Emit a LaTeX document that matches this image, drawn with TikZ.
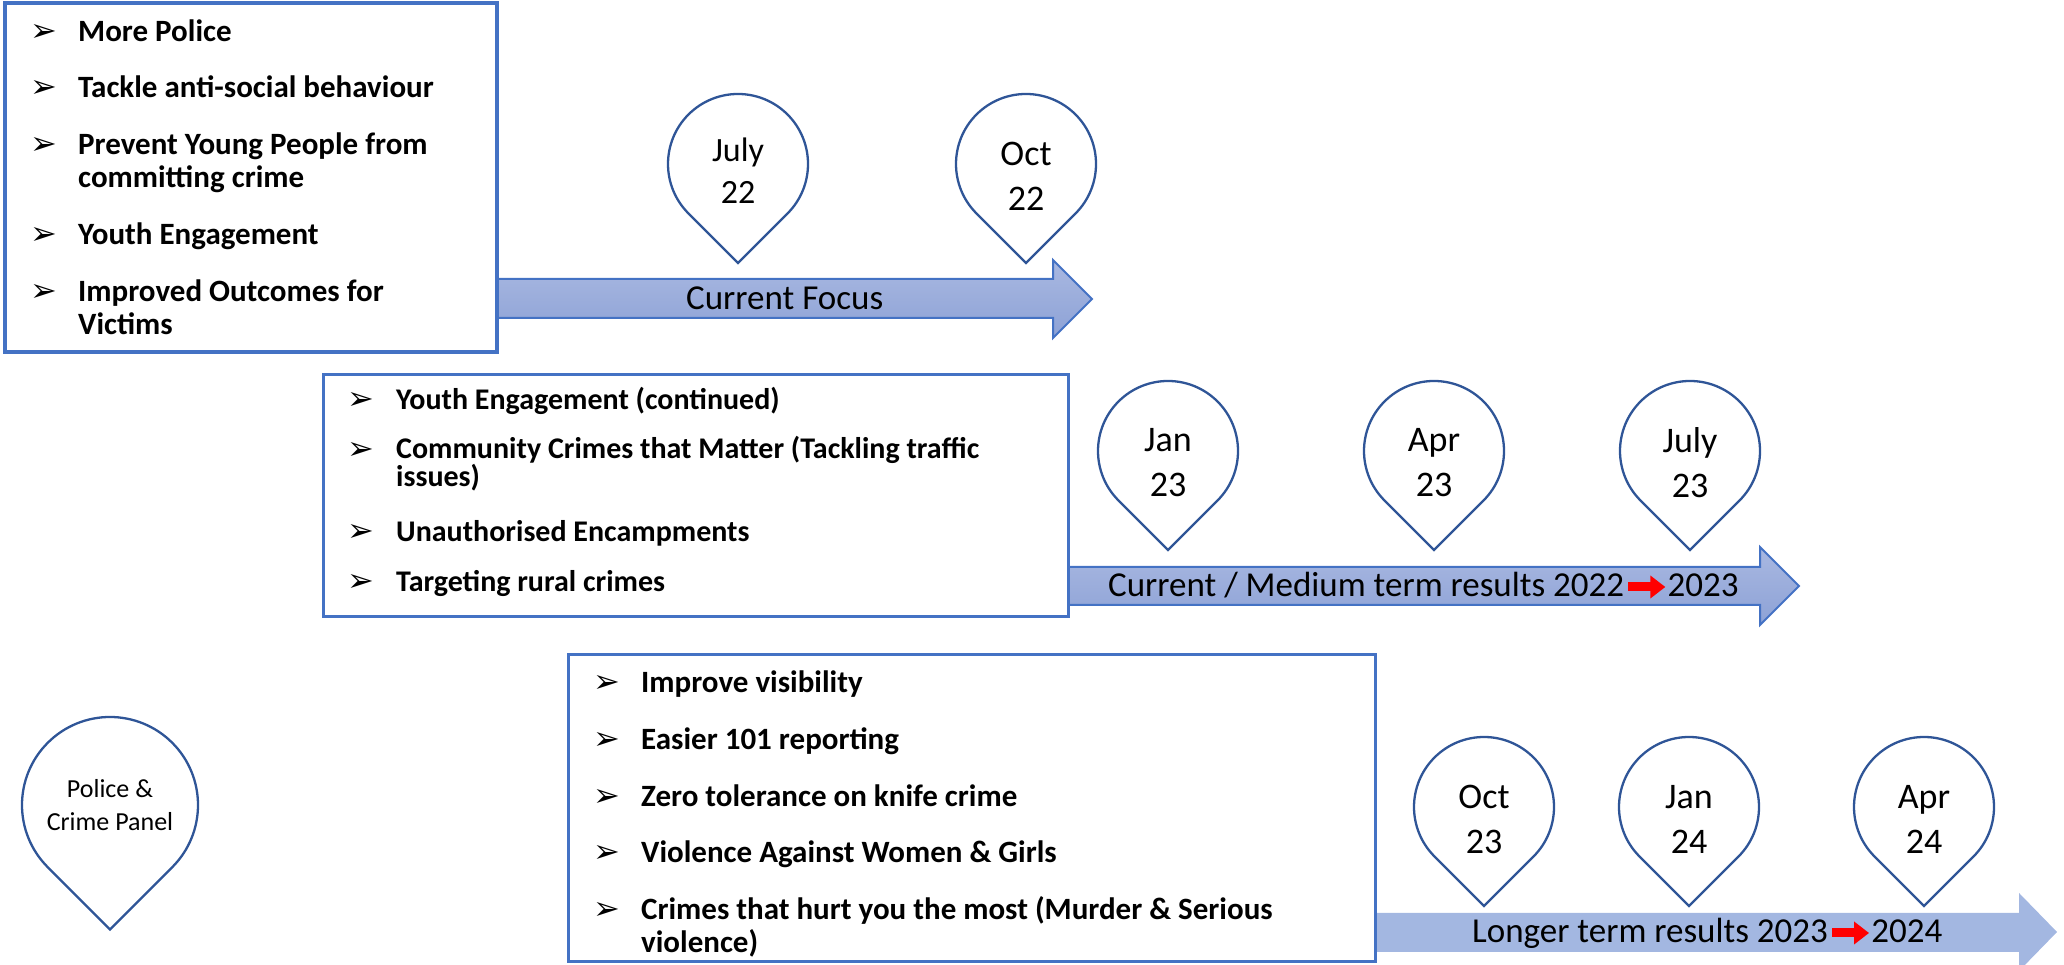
\documentclass[tikz,border=0pt]{standalone}
\usepackage{fontspec}
\setmainfont{Carlito}
\newfontfamily\dingfont{DejaVu Sans}
\usetikzlibrary{positioning,arrows.meta}

\definecolor{boxblue}{HTML}{4472C4}
\definecolor{pinblue}{HTML}{2F5597}
\definecolor{shafttop}{HTML}{A9B8E1}
\definecolor{shaftbot}{HTML}{8DA2D6}
\definecolor{paleblue}{HTML}{A3B7E1}

\tikzset{
  listbox/.style={draw=boxblue,fill=white,line width=3.5pt},
  pinline/.style={draw=pinblue,fill=white,line width=2.3pt},
  pinlabel/.style={align=center,inner sep=0pt,font=\fontsize{36}{45}\selectfont,yshift=-12pt},
  bigarrow/.style={top color=shafttop,bottom color=shaftbot,draw=boxblue,line width=2pt},
  flatarrow/.style={fill=paleblue},
  arrowtext/.style={anchor=base west,inner sep=0pt,font=\fontsize{35}{42}\selectfont},
  redarrow/.style={red,line width=9pt,-{Triangle[width=22pt,length=15pt]}},
  itemtext/.style 2 args={anchor=base west,inner sep=0pt,align=left,
    font=\bfseries\fontsize{#1}{#2}\selectfont},
  bulletmark/.style={anchor=base west,inner sep=0pt,font=\dingfont\fontsize{32}{32}\selectfont}
}

% map pin: circle with a right-angled tip below
\newcommand{\datepin}[6][]{%
  \draw[pinline] (#3,#4) ++(-45:#5) arc[start angle=-45,end angle=225,radius=#5pt]
    -- ++(0.7071*#5,-0.7071*#5) -- cycle;
  \node[pinlabel,#1] (#2) at (#3,#4) {#6};
}

\begin{document}
\begin{tikzpicture}[x=1pt,y=1pt]
  \useasboundingbox (0,0) rectangle (2064,965);

  % timeline arrows
  \draw[bigarrow] (496,686) -- (1053,686) -- (1053,705) -- (1092,666)
    -- (1053,627) -- (1053,647) -- (496,647) -- cycle;
  \draw[bigarrow] (1068,398) -- (1760,398) -- (1760,418) -- (1799,379)
    -- (1760,340) -- (1760,360) -- (1068,360) -- cycle;
  \fill[flatarrow] (1376,52) -- (2019,52) -- (2019,72) -- (2057,33)
    -- (2019,-6) -- (2019,13) -- (1376,13) -- cycle;

  % first box (bullet line / last line / text)
  \draw[listbox] (5,613) rectangle (497,962);
  \foreach \yb/\yt/\txt [count=\i] in {923/923/More Police,
      867/867/Tackle anti-social behaviour,
      810/777/{Prevent Young People from\\committing crime},
      720/720/Youth Engagement,
      663/630/{Improved Outcomes for\\Victims}}
  {
    \node[itemtext={31}{33}] (one-\i) at (78,\yt) {\txt};
    \node[bulletmark] (dotone-\i) at (30,\yb) {➢};
  }

  % second box
  \draw[listbox,line width=3pt] (323,348) rectangle (1068,590);
  \foreach \yb/\yt/\txt [count=\i] in {555/555/Youth Engagement (continued),
      505/478/{Community Crimes that Matter (Tackling traffic\\issues)},
      423/423/Unauthorised Encampments,
      373/373/Targeting rural crimes}
  {
    \node[itemtext={30}{27}] (two-\i) at (396,\yt) {\txt};
    \node[bulletmark] (dottwo-\i) at (347,\yb) {➢};
  }

  % third box
  \draw[listbox,line width=3pt] (568,3) rectangle (1375,310);
  \foreach \yb/\yt/\txt [count=\i] in {272/272/Improve visibility,
      215/215/Easier 101 reporting,
      158/158/Zero tolerance on knife crime,
      102/102/Violence Against Women \& Girls,
      45/12/{Crimes that hurt you the most (Murder \& Serious\\violence)}}
  {
    \node[itemtext={31}{33}] (three-\i) at (641,\yt) {\txt};
    \node[bulletmark] (dotthree-\i) at (593,\yb) {➢};
  }

  % pins
  \datepin[font=\fontsize{34}{42}\selectfont,yshift=5pt]{jul22}{738}{801}{70}{July\\22}
  \datepin{oct22}{1026}{801}{70}{Oct\\22}
  \datepin{jan23}{1168}{514}{70}{Jan\\23}
  \datepin{apr23}{1434}{514}{70}{Apr\\23}
  \datepin{jul23}{1690}{514}{70}{July\\23}
  \datepin{oct23}{1484}{158}{70}{Oct\\23}
  \datepin{jan24}{1689}{158}{70}{Jan\\24}
  \datepin{apr24}{1924}{158}{70}{Apr\\24}
  \datepin[font=\fontsize{26}{33}\selectfont,yshift=12pt]{panel}{110}{160}{88}{Police \&\\Crime Panel}

  % arrow labels
  \node[arrowtext] (focus) at (686,655) {Current Focus};
  \node[arrowtext] (medium) at (1108,368) {Current / Medium term results 2022};
  \node[arrowtext,right=43pt of medium.base east,anchor=base west] (medium-end) {2023};
  \node[arrowtext] (longer) at (1472,22) {Longer term results 2023};
  \node[arrowtext,right=43pt of longer.base east,anchor=base west] (longer-end) {2024};
  \draw[redarrow] ([xshift=4pt,yshift=10pt]medium.base east) -- ([xshift=-2pt,yshift=10pt]medium-end.base west);
  \draw[redarrow] ([xshift=4pt,yshift=10pt]longer.base east) -- ([xshift=-2pt,yshift=10pt]longer-end.base west);
\end{tikzpicture}
\end{document}
